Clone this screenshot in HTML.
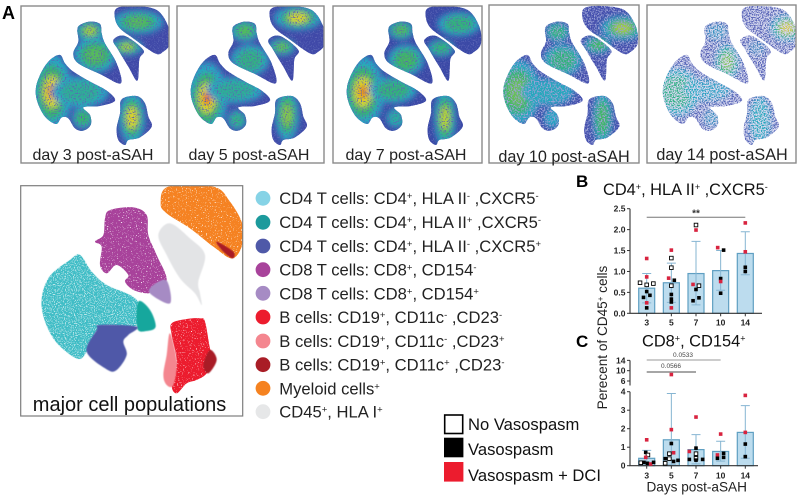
<!DOCTYPE html>
<html>
<head>
<meta charset="utf-8">
<title>Cell populations after aSAH</title>
<style>
html,body{margin:0;padding:0;background:#fff;width:800px;height:497px;overflow:hidden}
svg{display:block;font-family:"Liberation Sans",sans-serif}
</style>
</head>
<body>
<svg id="fig" xmlns="http://www.w3.org/2000/svg" width="800" height="497" viewBox="0 0 800 497">
  <defs>
    <filter id="blur-heat" x="-30%" y="-30%" width="160%" height="160%"><feGaussianBlur stdDeviation="3"/></filter>
    <filter id="blur-soft" x="-5%" y="-5%" width="110%" height="110%"><feGaussianBlur stdDeviation="0.5"/></filter>
    <filter id="speckle-a" x="0" y="0" width="100%" height="100%">
      <feTurbulence type="fractalNoise" baseFrequency="0.75" numOctaves="2" seed="4" result="n"/>
      <feColorMatrix in="n" type="matrix" values="0 0 0 0 0 0 0 0 0 0 0 0 0 0 0 0 0 0 9 -3.0" result="m"/>
      <feComposite in="SourceGraphic" in2="m" operator="in"/>
    </filter>
    <filter id="speckle-b" x="0" y="0" width="100%" height="100%">
      <feTurbulence type="fractalNoise" baseFrequency="0.7" numOctaves="2" seed="9" result="n"/>
      <feColorMatrix in="n" type="matrix" values="0 0 0 0 0 0 0 0 0 0 0 0 0 0 0 0 0 0 9 -3.5" result="m"/>
      <feComposite in="SourceGraphic" in2="m" operator="in"/>
    </filter>
    <filter id="speckle-c" x="0" y="0" width="100%" height="100%">
      <feTurbulence type="fractalNoise" baseFrequency="0.75" numOctaves="2" seed="13" result="n"/>
      <feColorMatrix in="n" type="matrix" values="0 0 0 0 0 0 0 0 0 0 0 0 0 0 0 0 0 0 9 -4.2" result="m"/>
      <feComposite in="SourceGraphic" in2="m" operator="in"/>
    </filter>
    <filter id="speckle-pop" x="0" y="0" width="100%" height="100%">
      <feTurbulence type="fractalNoise" baseFrequency="0.8" numOctaves="1" seed="3" result="n"/>
      <feColorMatrix in="n" type="matrix" values="0 0 0 0 0 0 0 0 0 0 0 0 0 0 0 0 0 0 9 -2.3" result="m"/>
      <feComposite in="SourceGraphic" in2="m" operator="in"/>
    </filter>
    <filter id="speckle-cyan" x="0" y="0" width="100%" height="100%">
      <feTurbulence type="fractalNoise" baseFrequency="0.9" numOctaves="1" seed="6" result="n"/>
      <feColorMatrix in="n" type="matrix" values="0 0 0 0 0 0 0 0 0 0 0 0 0 0 0 0 0 0 9 -3.2" result="m"/>
      <feComposite in="SourceGraphic" in2="m" operator="in"/>
    </filter>
  </defs>

  <text x="2" y="19" font-size="18" font-weight="bold" fill="#000">A</text>
  <text x="576" y="187" font-size="17" font-weight="bold" fill="#000">B</text>
  <text x="576" y="347" font-size="17" font-weight="bold" fill="#000">C</text>

  <g id="flow-panels"></g>

  <g font-size="16" fill="#222" text-anchor="middle">
    <text x="93" y="160">day 3 post-aSAH</text>
    <text x="249" y="160">day 5 post-aSAH</text>
    <text x="406" y="160">day 7 post-aSAH</text>
    <text x="564" y="162" font-size="16.2">day 10 post-aSAH</text>
    <text x="722" y="160" font-size="16.2">day 14 post-aSAH</text>
  </g>

  <g id="population-map"></g>
  <rect x="20.7" y="185.7" width="222" height="230.3" fill="none" stroke="#7d7d7d" stroke-width="1.2"/>
  <text x="129.5" y="411" font-size="20" fill="#111" text-anchor="middle">major cell populations</text>

  <g font-size="16.6" fill="#222">
    <g><circle cx="263" cy="198.3" r="7.4" fill="#86d3e6"/><text x="279.3" y="204">CD4 T cells: CD4<tspan dy="-5" font-size="9.5">+</tspan><tspan dy="5">, HLA II</tspan><tspan dy="-5" font-size="9.5">-</tspan><tspan dy="5"> ,CXCR5</tspan><tspan dy="-5" font-size="9.5">-</tspan></text></g>
    <g><circle cx="263" cy="222.3" r="7.4" fill="#1c9a9c"/><text x="279.3" y="228">CD4 T cells: CD4<tspan dy="-5" font-size="9.5">+</tspan><tspan dy="5">, HLA II</tspan><tspan dy="-5" font-size="9.5">+</tspan><tspan dy="5"> ,CXCR5</tspan><tspan dy="-5" font-size="9.5">-</tspan></text></g>
    <g><circle cx="263" cy="246" r="7.4" fill="#4f59a8"/><text x="279.3" y="252">CD4 T cells: CD4<tspan dy="-5" font-size="9.5">+</tspan><tspan dy="5">, HLA II</tspan><tspan dy="-5" font-size="9.5">-</tspan><tspan dy="5"> ,CXCR5</tspan><tspan dy="-5" font-size="9.5">+</tspan></text></g>
    <g><circle cx="263" cy="269.7" r="7.4" fill="#a8439b"/><text x="279.3" y="275.5">CD8 T cells: CD8<tspan dy="-5" font-size="9.5">+</tspan><tspan dy="5">, CD154</tspan><tspan dy="-5" font-size="9.5">-</tspan></text></g>
    <g><circle cx="263" cy="293.3" r="7.4" fill="#a68bc4"/><text x="279.3" y="299.5">CD8 T cells: CD8<tspan dy="-5" font-size="9.5">+</tspan><tspan dy="5">, CD154</tspan><tspan dy="-5" font-size="9.5">+</tspan></text></g>
    <g><circle cx="263" cy="317" r="7.4" fill="#ec1c2e"/><text x="279.3" y="323">B cells: CD19<tspan dy="-5" font-size="9.5">+</tspan><tspan dy="5">, CD11c</tspan><tspan dy="-5" font-size="9.5">-</tspan><tspan dy="5"> ,CD23</tspan><tspan dy="-5" font-size="9.5">-</tspan></text></g>
    <g><circle cx="263" cy="341" r="7.4" fill="#f4868f"/><text x="279.3" y="347">B cells: CD19<tspan dy="-5" font-size="9.5">+</tspan><tspan dy="5">, CD11c</tspan><tspan dy="-5" font-size="9.5">-</tspan><tspan dy="5"> ,CD23</tspan><tspan dy="-5" font-size="9.5">+</tspan></text></g>
    <g><circle cx="263" cy="364.7" r="7.4" fill="#a91d26"/><text x="279.3" y="370.5">B cells: CD19<tspan dy="-5" font-size="9.5">+</tspan><tspan dy="5">, CD11c</tspan><tspan dy="-5" font-size="9.5">+</tspan><tspan dy="5"> ,CD23</tspan><tspan dy="-5" font-size="9.5">-</tspan></text></g>
    <g><circle cx="263" cy="388.3" r="7.4" fill="#f58220"/><text x="279.3" y="394.3">Myeloid cells<tspan dy="-5" font-size="9.5">+</tspan></text></g>
    <g><circle cx="263" cy="411.7" r="7.4" fill="#e6e7e8"/><text x="279.3" y="417.7">CD45<tspan dy="-5" font-size="9.5">+</tspan><tspan dy="5">, HLA I</tspan><tspan dy="-5" font-size="9.5">+</tspan></text></g>
  </g>

  <g font-size="16.6" fill="#111">
    <g><rect x="444.7" y="415" width="18" height="18.5" fill="#fff" stroke="#000" stroke-width="1.6"/><text x="468" y="430">No Vasospasm</text></g>
    <g><rect x="444" y="437.7" width="19.4" height="19.6" fill="#000"/><text x="468" y="455">Vasospasm</text></g>
    <g><rect x="444" y="462" width="19.4" height="19.6" fill="#ec1c2e"/><text x="468" y="481">Vasospasm + DCI</text></g>
  </g>

  <text x="603" y="195" font-size="16.4" fill="#111">CD4<tspan dy="-5" font-size="9">+</tspan><tspan dy="5">, HLA II</tspan><tspan dy="-5" font-size="9">+</tspan><tspan dy="5"> ,CXCR5</tspan><tspan dy="-5" font-size="9">-</tspan></text>
  <text x="642" y="346.5" font-size="16.4" fill="#111">CD8<tspan dy="-5" font-size="9">+</tspan><tspan dy="5">, CD154</tspan><tspan dy="-5" font-size="9">+</tspan></text>
  <text transform="translate(607,337.5) rotate(-90)" font-size="13.6" fill="#222" text-anchor="middle">Perecent of CD45<tspan dy="-4" font-size="8">+</tspan><tspan dy="4"> cells</tspan></text>
  <text x="696.7" y="491.5" font-size="13.6" fill="#222" text-anchor="middle">Days post-aSAH</text>
  <text x="696" y="216.5" font-size="10" font-weight="bold" fill="#333" text-anchor="middle">**</text>
  <text x="683" y="357" font-size="6.5" fill="#444" text-anchor="middle">0.0533</text>
  <text x="671" y="368" font-size="6.5" fill="#444" text-anchor="middle">0.0566</text>

  <g id="chart-b"></g>
  <g id="chart-c"></g>
</svg>

<script>
// ---------- chart data ----------
const categories = ['3', '5', '7', '10', '14'];
const bTickLabels = ['0.0', '0.5', '1.0', '1.5', '2.0', '2.5'];
const bTickValues = [0, 0.5, 1, 1.5, 2, 2.5];
const bMeans = [0.6, 0.73, 0.95, 1.02, 1.43];
const bUpper = [0.95, 1.2, 1.72, 1.5, 1.95];
const bLower = [0.25, 0.26, 0.2, 0.55, 0.92];
// [category index, jitter (fraction of category spacing), value, group]
const bPoints = [
  [0,-0.27,0.73,'open'],[0,0,0.68,'open'],[0,0.27,0.71,'open'],[0,0,1.31,'red'],[0,0,0.87,'red'],
  [0,0,0.52,'black'],[0,-0.13,0.38,'black'],[0,0.13,0.43,'black'],[0,0,0.25,'red'],[0,0,0.13,'black'],
  [1,0,1.51,'red'],[1,0,1.32,'open'],[1,0,1.09,'open'],[1,-0.11,0.84,'red'],[1,0.12,0.79,'black'],
  [1,0,0.66,'open'],[1,0,0.45,'black'],[1,0,0.34,'black'],[1,0,0.27,'black'],[1,0,0.13,'red'],
  [2,0,2.11,'open'],[2,0,1.99,'red'],[2,-0.12,0.69,'red'],[2,0.12,0.66,'open'],[2,0,0.57,'black'],
  [2,0.12,0.37,'black'],[2,-0.12,0.3,'black'],
  [3,-0.12,1.57,'red'],[3,0.12,1.51,'black'],[3,0,0.83,'black'],[3,0,0.76,'red'],[3,0,0.48,'black'],
  [4,0,2.16,'red'],[4,0,1.47,'red'],[4,0,1.1,'black'],[4,0,1.0,'black']
];
const cTickLabelsLow = ['0', '1', '2', '3', '4'];
const cTickValuesLow = [0, 1, 2, 3, 4];
const cTickLabelsHigh = ['6', '10', '14'];
const cTickValuesHigh = [6, 10, 14];
const cMeans = [0.4, 1.4, 0.87, 0.77, 1.8];
const cUpper = [0.83, 3.9, 1.68, 1.32, 3.25];
const cLower = [0.03, 0.05, 0.1, 0.25, 0.4];
const cPoints = [
  [0,0,1.4,'red'],[0,-0.04,0.72,'black'],[0,0.05,0.58,'open'],[0,-0.04,0.45,'red'],[0,-0.24,0.16,'open'],
  [0,-0.11,0.18,'black'],[0,0.03,0.13,'black'],[0,0.16,0.09,'red'],[0,0.28,0.18,'black'],
  [1,0,8.5,'red'],[1,0,1.95,'red'],[1,0,1.2,'black'],[1,0.09,0.7,'red'],[1,-0.08,0.65,'open'],
  [1,-0.08,0.38,'open'],[1,-0.25,0.38,'black'],[1,-0.25,0.13,'open'],[1,0.09,0.23,'black'],[1,0.27,0.29,'black'],
  [2,0,2.63,'red'],[2,0,0.95,'black'],[2,-0.27,0.77,'red'],[2,0,0.65,'open'],[2,-0.27,0.34,'black'],
  [2,0,0.4,'open'],[2,0.27,0.34,'black'],[2,0,0.3,'black'],
  [3,0,1.71,'red'],[3,-0.13,0.58,'red'],[3,0.12,0.67,'black'],[3,-0.13,0.4,'black'],[3,0.12,0.45,'black'],
  [4,0,3.8,'red'],[4,0,1.8,'red'],[4,0,1.17,'black'],[4,0,0.49,'black']
];

// ---------- density plot heat spots: [cx, cy, rx, ry, level] ----------
const day3Spots = [[52,92,17,32,4],[80,92,24,13,1.5],[83,118,9,9,2],[90,31,12,9,2.7],[95,55,18,15,2.2],[127,47,13,7,2.7],[138,22,21,10,2.2],[132,118,11,22,3.1]];
const day5Spots = [[52,98,17,30,4.2],[80,90,24,11,1.5],[82,120,8,8,1.7],[90,31,12,9,2.2],[95,60,16,13,1.7],[127,47,11,7,2.3],[143,18,20,10,3.1],[132,115,10,22,2.5]];
const day7Spots = [[52,92,18,30,3.7],[82,90,20,11,1.8],[85,118,8,8,1.4],[90,30,11,8,2.2],[95,60,15,13,2.1],[130,48,11,7,1.8],[148,24,18,10,1.8],[134,118,9,24,2.8]];
const day10Spots = [[50,92,19,27,2.3],[80,92,22,11,1.1],[85,118,7,8,1],[90,32,10,8,1.8],[95,60,16,13,1.8],[130,45,11,7,2.1],[155,28,18,10,2.7],[135,118,8,22,2.1]];
const day14Spots = [[50,92,19,20,1.7],[80,90,20,9,0.9],[85,118,7,7,0.7],[90,32,9,7,0.7],[100,62,10,15,2.5],[130,48,7,6,0.5],[160,28,14,11,3.4],[133,120,9,20,1.1]];
const dayNames = ['day-3', 'day-5', 'day-7', 'day-10', 'day-14'];
const daySpots = [day3Spots, day5Spots, day7Spots, day10Spots, day14Spots];

// ---------- helpers ----------
const NS = 'http://www.w3.org/2000/svg';
function el(tag, attrs, parent) {
  const e = document.createElementNS(NS, tag);
  for (const k in attrs) e.setAttribute(k, attrs[k]);
  if (parent) parent.appendChild(e);
  return e;
}
function smooth(pts) {
  let d = 'M' + pts[0][0] + ' ' + pts[0][1];
  const n = pts.length;
  for (let i = 0; i < n; i++) {
    const p0 = pts[(i - 1 + n) % n], p1 = pts[i], p2 = pts[(i + 1) % n], p3 = pts[(i + 2) % n];
    d += 'C' + (p1[0] + (p2[0] - p0[0]) / 6) + ' ' + (p1[1] + (p2[1] - p0[1]) / 6) + ' ' +
         (p2[0] - (p3[0] - p1[0]) / 6) + ' ' + (p2[1] - (p3[1] - p1[1]) / 6) + ' ' + p2[0] + ' ' + p2[1];
  }
  return d + 'Z';
}
function third(pts) { return pts.map(function (p) { return [p[0] / 3, p[1] / 3]; }); }

// ---------- density plots (outlines in 3x crop space) ----------
const lobes = [
  [[180,165],[150,180],[125,215],[108,262],[112,305],[135,350],[168,372],[185,352],[205,355],[225,385],[250,392],[272,375],[270,345],[250,322],[300,318],[345,302],[320,272],[270,245],[220,215],[195,190]],
  [[240,75],[270,65],[300,72],[305,100],[315,130],[350,190],[362,250],[300,222],[235,190],[220,160],[235,125],[232,90]],
  [[340,120],[375,108],[430,150],[418,178],[412,242],[385,200],[355,150]],
  [[350,25],[400,18],[470,30],[505,80],[510,130],[490,155],[465,160],[400,115],[360,85],[345,55]],
  [[365,298],[410,288],[435,310],[445,350],[455,380],[420,412],[385,420],[375,435],[355,420],[350,385],[360,340]]
];
const lobePaths = lobes.map(function (l) { return smooth(third(l)); });
const frames = [[21,6,148,157,0,0],[177,6,147,157,155,0],[333,6,149,157,311,0],[489,5,150,158,467.6,0],[647,5,149,158,627,0]];
const baseColors = ['#3f4aa8','#3f4aa8','#3a48a6','#4450ad','#5a65b8'];
const underColors = ['#5a64b6','#5a64b6','#5a64b6','#9aa1d6','#d3d6ee'];
const speckles = ['speckle-a','speckle-a','speckle-a','speckle-b','speckle-c'];
const root = document.getElementById('flow-panels');
const defs = document.querySelector('defs');

const lobeClip = el('clipPath', {id: 'lobe-clip'}, defs);
lobePaths.forEach(function (d) { el('path', {d: d}, lobeClip); });

function heatColor(k) { return ['#27a7c4', '#35b56a', '#dcdc28', '#ee5a1a'][k]; }
frames.forEach(function (f, i) {
  const clipId = 'frame-clip-' + i;
  const c = el('clipPath', {id: clipId}, defs);
  el('rect', {x: f[0], y: f[1], width: f[2], height: f[3]}, c);
  const panel = el('g', {}, root);
  
  
  el('rect', {x: f[0], y: f[1], width: f[2], height: f[3], fill: '#fff'}, panel);
  const clipped = el('g', {'clip-path': 'url(#' + clipId + ')'}, panel);
  const under = el('g', {transform: 'translate(' + f[4] + ',' + f[5] + ')', 'clip-path': 'url(#lobe-clip)'}, clipped);
  el('rect', {x: 20, y: 0, width: 160, height: 170, fill: underColors[i]}, under);
  const speck = el('g', {filter: 'url(#' + speckles[i] + ')'}, clipped);
  const moved = el('g', {transform: 'translate(' + f[4] + ',' + f[5] + ')'}, speck);
  const inner = el('g', {'clip-path': 'url(#lobe-clip)'}, moved);
  el('rect', {x: 20, y: 0, width: 160, height: 170, fill: baseColors[i]}, inner);
  const heat = el('g', {filter: 'url(#blur-heat)'}, inner);
  daySpots[i].forEach(function (s) {
    const lv = s[4];
    const scales = [1.2, 0.85, 0.5, 0.24];
    for (let k = 0; k < 4; k++) {
      const a = Math.min(1, lv - k);
      if (a <= 0) break;
      el('ellipse', {cx: s[0], cy: s[1], rx: s[2] * scales[k], ry: s[3] * scales[k], fill: heatColor(k), opacity: a}, heat);
    }
  });
  const frame = el('rect', {x: f[0], y: f[1], width: f[2], height: f[3], fill: 'none', stroke: '#8a8a8a', 'stroke-width': 1.4}, panel);
  
  
});

// ---------- population map (coordinates in 3x crop space) ----------
const popShapes = [
  ['cd4-cells-cyan-under', '#bde6ea', 'blur-soft', [[210,255],[240,240],[275,290],[320,330],[410,375],[410,450],[330,450],[295,460],[260,530],[230,550],[160,490],[125,395],[145,310]]],
  ['cd4-cells-cyan', '#3fbdc6', 'speckle-cyan', [[210,255],[240,240],[275,290],[320,330],[410,375],[410,450],[330,450],[295,460],[260,530],[230,550],[160,490],[125,395],[145,310]]],
  ['hla-i-cells', '#e3e4e6', 'blur-soft', [[510,145],[475,180],[500,240],[540,310],[585,355],[605,390],[600,355],[595,320],[615,240],[570,190]]],
  ['myeloid-cells', '#f58220', 'speckle-pop', [[505,35],[640,35],[690,80],[728,150],[725,215],[695,250],[640,215],[570,160],[500,115],[482,85]]],
  ['cd8-cd154-neg-cells', '#a8439b', 'speckle-pop', [[330,105],[400,97],[440,120],[445,180],[470,240],[500,315],[455,340],[445,355],[400,345],[375,320],[385,300],[350,270],[320,295],[300,270],[305,215],[285,200],[310,180],[315,130]]],
  ['cd8-cd154-pos-cells', '#a68bc4', 'blur-soft', [[500,317],[510,385],[450,355],[460,330]]],
  ['cd4-hla-pos-cells', '#12a79d', 'blur-soft', [[415,380],[450,405],[467,455],[440,468],[412,460]]],
  ['cd4-cxcr5-pos-cells', '#4f59a8', 'blur-soft', [[300,450],[410,455],[385,480],[370,500],[380,540],[350,585],[320,583],[260,530],[290,465]]],
  ['b-cd23-neg-cells', '#ec1c2e', 'speckle-pop', [[515,445],[560,432],[600,430],[615,440],[630,520],[640,550],[620,595],[590,615],[560,625],[530,655],[515,630],[530,560],[515,480]]],
  ['b-cd23-pos-cells', '#f4868f', 'blur-soft', [[510,475],[530,560],[520,630],[500,630],[490,600],[500,540]]],
  ['b-cd11c-pos-cells', '#a91d26', 'blur-soft', [[630,525],[650,555],[625,595],[610,570]]],
  ['myeloid-dark-tip', '#a91d26', 'blur-soft', [[650,200],[700,230],[697,250],[665,225]]]
];
const popRoot = document.getElementById('population-map');
const popClip = el('clipPath', {id: 'pop-clip'}, defs);
el('rect', {x: 20.7, y: 185.7, width: 222, height: 230.3}, popClip);
const popClipped = el('g', {'clip-path': 'url(#pop-clip)'}, popRoot);
popShapes.forEach(function (s) {
  const pts = s[3].map(function (p) { return [p[0] / 3, 175 + p[1] / 3]; });
  const shape = el('path', {d: smooth(pts), fill: s[1], filter: 'url(#' + s[2] + ')'}, popClipped);
  
  
});

// ---------- bar charts ----------
const XC0 = 646.7, XSTEP = 24.65, BARW = 16;
function xCat(i) { return XC0 + XSTEP * i; }
function xJitter(i, j) { return xCat(i) + j * XSTEP; }
function yB(v) { return 313.3 - v * 41.84; }
function yC(v) {
  if (v <= 4) return 465.7 - v * 18.5;
  return 381 - (v - 6) * 2.58;
}
function drawPoint(parent, x, y, group) {
  const r = el('rect', {x: x - 1.8, y: y - 1.8, width: 3.6, height: 3.6,
    fill: group === 'open' ? '#fff' : (group === 'red' ? '#d8233f' : '#000'),
    stroke: group === 'open' ? '#000' : 'none', 'stroke-width': group === 'open' ? 0.9 : 0}, parent);
  
  
}
function drawBars(g, means, up, lo, yFn, base) {
  means.forEach(function (m, i) {
    const x = xCat(i);
    const bar = el('rect', {x: x - BARW / 2, y: yFn(m), width: BARW, height: base - yFn(m), fill: '#bcdcee', stroke: '#5f9fc2', 'stroke-width': 1.2}, g);
    
    
    const err = el('path', {d: 'M' + x + ' ' + yFn(up[i]) + 'V' + yFn(lo[i]) +
      'M' + (x - 4.5) + ' ' + yFn(up[i]) + 'h9M' + (x - 4.5) + ' ' + yFn(lo[i]) + 'h9',
      stroke: '#86b5d2', 'stroke-width': 1, fill: 'none'}, g);
    
    
  });
}
function drawCategoryTicks(g, base, labelY) {
  categories.forEach(function (c, i) {
    el('line', {x1: xCat(i), x2: xCat(i), y1: base, y2: base + 3, stroke: '#333', 'stroke-width': 1}, g);
    const t = el('text', {x: xCat(i), y: labelY, 'font-size': 8.5, 'font-weight': 'bold', fill: '#222', 'text-anchor': 'middle'}, g);
    t.textContent = c;
    
    
  });
}
function drawYTicks(g, values, labels, yFn, axisX) {
  values.forEach(function (v, i) {
    el('line', {x1: axisX - 3, x2: axisX, y1: yFn(v), y2: yFn(v), stroke: '#333', 'stroke-width': 1}, g);
    const t = el('text', {x: axisX - 4.5, y: yFn(v) + 3, 'font-size': 8.5, 'font-weight': 'bold', fill: '#222', 'text-anchor': 'end'}, g);
    t.textContent = labels[i];
    
    
  });
}

// chart B
const gB = document.getElementById('chart-b');
drawBars(gB, bMeans, bUpper, bLower, yB, 313.3);
const bAxis = el('path', {d: 'M630 ' + yB(2.5) + 'V313.3H762', stroke: '#333', 'stroke-width': 1.1, fill: 'none'}, gB);


drawYTicks(gB, bTickValues, bTickLabels, yB, 630);
drawCategoryTicks(gB, 313.3, 325.5);
const bSig = el('line', {x1: xCat(0), x2: xCat(4), y1: 217.3, y2: 217.3, stroke: '#777', 'stroke-width': 1}, gB);


bPoints.forEach(function (p) { drawPoint(gB, xJitter(p[0], p[1]), yB(p[2]), p[3]); });

// chart C
const gC = document.getElementById('chart-c');
drawBars(gC, cMeans, cUpper, cLower, yC, 465.7);
const cAxis = el('path', {d: 'M630 ' + yC(4) + 'V465.7H758M630 ' + yC(14) + 'V385.5', stroke: '#333', 'stroke-width': 1.1, fill: 'none'}, gC);


drawYTicks(gC, cTickValuesLow, cTickLabelsLow, yC, 630);
drawYTicks(gC, cTickValuesHigh, cTickLabelsHigh, yC, 630);
drawCategoryTicks(gC, 465.7, 478.5);
const cSigA = el('line', {x1: xCat(0), x2: xCat(3), y1: 360, y2: 360, stroke: '#999', 'stroke-width': 0.9}, gC);


const cSigB = el('line', {x1: xCat(0), x2: xCat(2), y1: 372, y2: 372, stroke: '#888', 'stroke-width': 1.6}, gC);


cPoints.forEach(function (p) { drawPoint(gC, xJitter(p[0], p[1]), yC(p[2]), p[3]); });
</script>
</body>
</html>
